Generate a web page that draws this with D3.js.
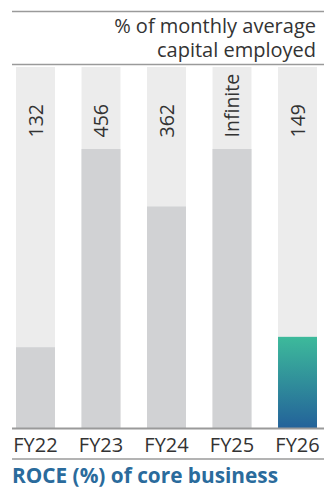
<!DOCTYPE html>
<html>
<head>
<meta charset="utf-8">
<script src="https://cdn.jsdelivr.net/npm/d3@7"></script>
<style>
  html, body { margin: 0; padding: 0; background: #fff; }
  svg { display: block; font-family: "Open Sans", "Noto Sans", sans-serif; }
</style>
</head>
<body>
<svg id="chart" width="324" height="492"></svg>
<script>
// ROCE of core business, fiscal years
const years = ["FY22", "FY23", "FY24", "FY25", "FY26"];
const roce = [132, 456, 362, null, 149];          // null = infinite (no capital employed)
const roceLabels = ["132", "456", "362", "Infinite", "149"];
const trackMax = 590;                              // top of the light background track
const unitNote = ["% of monthly average", "capital employed"];
const title = "ROCE (%) of core business";

const W = 324, H = 492;
const ruleLeft = 12;
const plotTop = 67, plotBottom = 428;
const font = "'Open Sans', 'Noto Sans', sans-serif";
const ink = "#333";
const ruleColor = "#9a9a9a";

const svg = d3.select("#chart");

const defs = svg.append("defs");
const grad = defs.append("linearGradient")
  .attr("id", "hlGrad").attr("x1", 0).attr("y1", 0).attr("x2", 0).attr("y2", 1);
grad.append("stop").attr("offset", "0%").attr("stop-color", "#3dba9b");
grad.append("stop").attr("offset", "100%").attr("stop-color", "#23629a");

const x = d3.scaleBand()
  .domain(years)
  .range([16, 317])
  .paddingInner(0.405)
  .paddingOuter(0);

const y = d3.scaleLinear().domain([0, trackMax]).range([plotBottom, plotTop]);

// infinite value is shown at the largest finite value
const capValue = d3.max(roce.filter(v => v != null));
const shown = roce.map(v => v == null ? capValue : v);

// header rules and unit note
svg.append("line").attr("x1", ruleLeft).attr("x2", W)
  .attr("y1", 11.5).attr("y2", 11.5).attr("stroke", ruleColor).attr("stroke-width", 1.5);
svg.append("line").attr("x1", ruleLeft).attr("x2", W)
  .attr("y1", 64.5).attr("y2", 64.5).attr("stroke", ruleColor).attr("stroke-width", 1.5);

const note = svg.append("text")
  .attr("text-anchor", "end")
  .attr("font-size", 20).attr("fill", ink);
note.selectAll("tspan").data(unitNote).join("tspan")
  .attr("x", 316).attr("y", (d, i) => 33 + i * 23.5)
  .text(d => d);

// background tracks
svg.append("g").selectAll("rect").data(years).join("rect")
  .attr("x", d => x(d)).attr("width", x.bandwidth())
  .attr("y", y(trackMax)).attr("height", y(0) - y(trackMax))
  .attr("fill", "#ececec");

// value bars
svg.append("g").selectAll("rect").data(years).join("rect")
  .attr("x", d => x(d)).attr("width", x.bandwidth())
  .attr("y", (d, i) => y(shown[i]))
  .attr("height", (d, i) => y(0) - y(shown[i]))
  .attr("fill", (d, i) => i === years.length - 1 ? "url(#hlGrad)" : "#d1d2d4");

// rotated value labels
svg.append("g").selectAll("text").data(years).join("text")
  .attr("transform", d => `translate(${x(d) + x.bandwidth() / 2},137.5) rotate(-90)`)
  .attr("dy", "0.38em")
  .attr("font-size", 19.5).attr("fill", ink)
  .text((d, i) => roceLabels[i]);

// category axis under the bars
const axis = d3.axisBottom(x).tickSize(0);
const gx = svg.append("g").attr("transform", `translate(0,${plotBottom})`).call(axis);
gx.select(".domain").remove();
gx.selectAll("text")
  .attr("y", 23.5).attr("dy", 0)
  .attr("font-size", 20).attr("fill", ink)
  .attr("font-family", font);
svg.append("line").attr("x1", ruleLeft).attr("x2", W)
  .attr("y1", plotBottom + 0.5).attr("y2", plotBottom + 0.5)
  .attr("stroke", ruleColor).attr("stroke-width", 2);

svg.append("line").attr("x1", ruleLeft).attr("x2", W)
  .attr("y1", 459).attr("y2", 459).attr("stroke", ruleColor).attr("stroke-width", 1.5);

svg.append("text").attr("x", 12).attr("y", 482.5)
  .attr("font-size", 20.8).attr("font-weight", 700).attr("fill", "#2a6b9c")
  .text(title);
</script>
</body>
</html>
